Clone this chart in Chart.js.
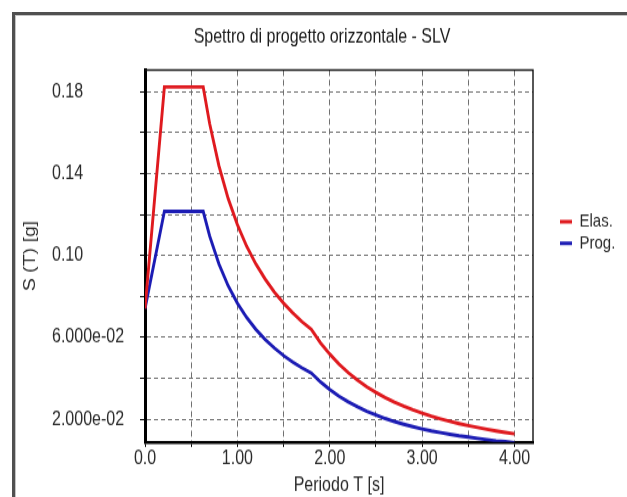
<!DOCTYPE html>
<html>
<head>
<meta charset="utf-8">
<title>Spettro di progetto orizzontale - SLV</title>
<script src="https://cdn.jsdelivr.net/npm/chart.js@4.4.1/dist/chart.umd.min.js"></script>
<style>
  html, body { margin: 0; padding: 0; background: #ffffff; }
  #wrap { position: relative; width: 627px; height: 497px; overflow: hidden; background: #ffffff; }
  #frame {
    position: absolute; left: 12px; top: 12px; width: 700px; height: 600px;
    border-left: 3px solid #505050; border-top: 3px solid #505050;
    box-shadow: inset 1px 1px 0 #c4c4c4;
  }
  /* the chart is drawn on a shorter canvas and stretched to the panel height */
  #stage { position: absolute; left: 0; top: 0; width: 627px; height: 408px;
           transform: scaleY(1.21814); transform-origin: 0 0; }
  #chart { display: block; }
</style>
</head>
<body>
<div id="wrap">
  <div id="frame"></div>
  <div id="stage"><canvas id="chart" width="627" height="408"></canvas></div>
</div>
<script>
// Period T [s]
const periods = [0, 0.21, 0.63, 0.7, 0.8, 0.9, 1.0, 1.1, 1.2, 1.3, 1.4, 1.5, 1.6, 1.7, 1.8,
  1.9, 2.0, 2.1, 2.2, 2.3, 2.4, 2.5, 2.6, 2.7, 2.8, 2.9, 3.0, 3.1, 3.2, 3.3, 3.4, 3.5,
  3.6, 3.7, 3.8, 3.9, 4.0];

// Elastic spectrum S(T) [g]
const elastic = [0.074, 0.1822, 0.1822, 0.1643, 0.1438, 0.1278, 0.1150, 0.1045, 0.0958,
  0.0885, 0.0821, 0.0767, 0.0719, 0.0676, 0.0639,
  0.0573, 0.0518, 0.0469, 0.0428, 0.0391, 0.0359, 0.0331, 0.0306, 0.0284, 0.0264, 0.0246,
  0.0230, 0.0215, 0.0202, 0.0190, 0.0179, 0.0169, 0.0160, 0.0151, 0.0143, 0.0136, 0.0129];

// Design spectrum S(T) [g]
const design = [0.074, 0.1215, 0.1215, 0.1095, 0.0959, 0.0852, 0.0767, 0.0697, 0.0639,
  0.0590, 0.0548, 0.0511, 0.0479, 0.0451, 0.0426,
  0.0382, 0.0345, 0.0313, 0.0285, 0.0261, 0.0239, 0.0221, 0.0204, 0.0189, 0.0176, 0.0164,
  0.0153, 0.0143, 0.0135, 0.0127, 0.0119, 0.0113, 0.0107, 0.0101, 0.0095, 0.0091, 0.0086];

const seriesNames = ['Elas.', 'Prog.'];

// Tick labels, one per grid step (0.5 s on x, 0.02 g on y from 0.02 up)
const xTickLabels = ['0.0', '', '1.00', '', '2.00', '', '3.00', '', '4.00'];
const yTickLabels = ['2.000e-02', '', '6.000e-02', '', '0.10', '', '0.14', '', '0.18'];

const FONT = "'Liberation Sans', Arial, sans-serif";
const TEXT = '#2a2a2a';

// legend geometry: marker line, font, gap between entries
const LEG_FONT = 15, LEG_PAD = 2.7, LEG_MARK = 12;
const LEG_LEFT = 557.3;      // left edge of the legend box
const PLOT_LEFT = 52;        // where the value axis labels start
const TITLE_SHIFT = 17;      // title sits a little left of the plot centre

const mctx = document.createElement('canvas').getContext('2d');
mctx.font = LEG_FONT + 'px ' + FONT;
const legTextW = Math.max(...seriesNames.map(n => mctx.measureText(n).width));
const legWidth = LEG_PAD + LEG_MARK + LEG_FONT / 2 + legTextW + 10;
const padRight = 627 - LEG_LEFT - legWidth;
const padLeft = padRight + TITLE_SHIFT;

const toPoints = (vals) => periods.map((t, i) => ({ x: t, y: vals[i] }));

// thin top/right edge of the plot box
const plotFrame = {
  id: 'plotFrame',
  afterDraw(chart) {
    const { ctx, chartArea: a } = chart;
    ctx.save();
    ctx.strokeStyle = '#111111';
    ctx.lineWidth = 1.4;
    ctx.beginPath();
    ctx.moveTo(a.left, a.top);
    ctx.lineTo(a.right, a.top);
    ctx.lineTo(a.right, a.bottom);
    ctx.stroke();
    ctx.restore();
  }
};

const tickFont = { family: FONT, size: 16, lineHeight: 1.2 };

new Chart(document.getElementById('chart'), {
  type: 'line',
  data: {
    datasets: [
      { label: seriesNames[0], data: toPoints(elastic), borderColor: '#df1a1f', backgroundColor: '#df1a1f',
        borderWidth: 2.9, pointRadius: 0, tension: 0, fill: false },
      { label: seriesNames[1], data: toPoints(design), borderColor: '#1c1cb4', backgroundColor: '#1c1cb4',
        borderWidth: 2.9, pointRadius: 0, tension: 0, fill: false }
    ]
  },
  options: {
    responsive: false,
    animation: false,
    devicePixelRatio: 1,
    layout: { padding: { left: padLeft, right: padRight, top: 0, bottom: 0 } },
    plugins: {
      title: {
        display: true,
        text: 'Spettro di progetto orizzontale - SLV',
        color: '#1a1a1a',
        font: { family: FONT, size: 16, weight: 'normal', lineHeight: 1.2 },
        padding: { top: 20.77, bottom: 17.49 }
      },
      legend: {
        display: true,
        position: 'right',
        align: 'start',
        title: { display: true, text: '', font: { size: 10, lineHeight: 1 }, padding: { top: 161.8, bottom: 0 } },
        labels: {
          usePointStyle: true,
          pointStyle: 'line',
          pointStyleWidth: LEG_MARK,
          boxHeight: 3,
          padding: LEG_PAD,
          color: TEXT,
          font: { family: FONT, size: LEG_FONT, lineHeight: 1.2 }
        }
      },
      tooltip: { enabled: false }
    },
    scales: {
      x: {
        type: 'linear',
        position: 'bottom',
        min: 0,
        max: 4.2,
        afterFit(s) { s.height = 45.15; },
        ticks: {
          stepSize: 0.5,
          includeBounds: false,
          autoSkip: false,
          maxRotation: 0,
          padding: 0,
          color: TEXT,
          font: tickFont,
          callback: (v, i) => xTickLabels[i]
        },
        grid: { color: '#707070', lineWidth: 1, drawTicks: true, tickLength: 4, tickColor: '#000000', tickWidth: 1, tickBorderDash: [] },
        border: { display: true, color: '#000000', width: 2.5, dash: [5, 3] },
        title: {
          display: true,
          text: 'Periodo T [s]',
          color: TEXT,
          font: tickFont,
          padding: { top: 0, bottom: 0.2 }
        }
      },
      y: {
        type: 'linear',
        position: 'left',
        min: 0.0089,
        max: 0.1905,
        afterFit(s) { s.width = 145 - PLOT_LEFT; },
        ticks: {
          stepSize: 0.02,
          includeBounds: false,
          autoSkip: false,
          crossAlign: 'far',
          padding: 4,
          color: TEXT,
          font: tickFont,
          callback: (v, i) => yTickLabels[i]
        },
        grid: { color: '#707070', lineWidth: 1, drawTicks: true, tickLength: 5, tickColor: '#000000', tickWidth: 1, tickBorderDash: [] },
        border: { display: true, color: '#000000', width: 3, dash: [4, 3] },
        title: {
          display: true,
          text: 'S (T) [g]',
          color: TEXT,
          font: tickFont,
          padding: { top: 31 - PLOT_LEFT - 9.6, bottom: 0 }
        }
      },
      // empty spacer boxes around the plot
      yGap: {
        type: 'linear',
        position: 'left',
        weight: 10,
        display: true,
        afterFit(s) { s.width = PLOT_LEFT - padLeft; },
        grid: { display: false, drawTicks: false },
        ticks: { display: false },
        border: { display: false }
      },
      yR: {
        type: 'linear',
        position: 'right',
        display: true,
        afterFit(s) { s.width = LEG_LEFT - 533; },
        grid: { display: false, drawTicks: false },
        ticks: { display: false },
        border: { display: false }
      }
    }
  },
  plugins: [plotFrame]
});
</script>
</body>
</html>
